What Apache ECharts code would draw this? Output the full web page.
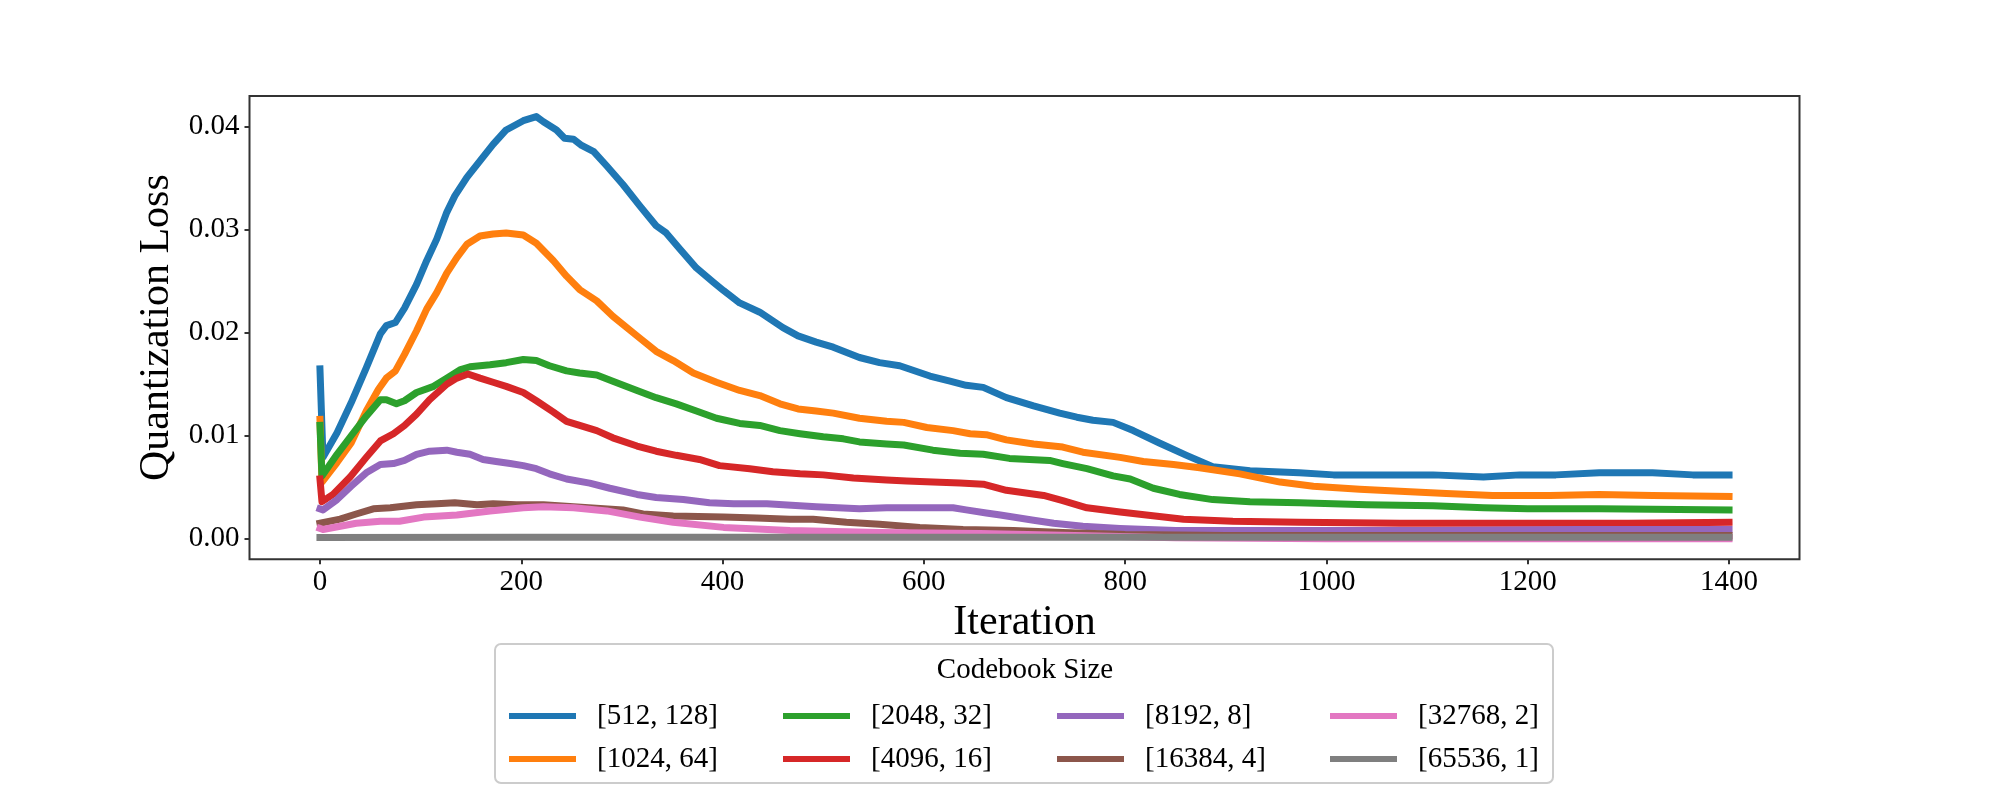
<!DOCTYPE html>
<html>
<head>
<meta charset="utf-8">
<script src="https://cdn.jsdelivr.net/npm/echarts@6/dist/echarts.min.js"></script>
<style>html,body{margin:0;padding:0;background:#fff}#chart{width:2000px;height:800px}</style>
</head>
<body>
<div id="chart"></div>
<script>
// ---- data ----
const seriesNames = ['[512, 128]', '[1024, 64]', '[2048, 32]', '[4096, 16]', '[8192, 8]', '[16384, 4]', '[32768, 2]', '[65536, 1]'];
const xTicks = [0, 200, 400, 600, 800, 1000, 1200, 1400];
const yTicks = [0, 0.01, 0.02, 0.03, 0.04];

const loss_512_128 = [[0,0.0165],[3,0.0079],[17,0.0103],[31,0.0132],[46,0.0166],[60,0.0199],[66,0.0207],[75,0.0210],[84,0.0224],[96,0.0247],[106,0.0270],[116,0.0291],[126,0.0317],[134,0.0333],[146,0.0351],[159,0.0367],[172,0.0383],[185,0.0397],[202,0.0406],[215,0.0410],[222,0.0405],[235,0.0397],[243,0.0389],[252,0.0388],[260,0.0382],[272,0.0376],[285,0.0362],[301,0.0344],[318,0.0323],[334,0.0304],[344,0.0297],[358,0.0281],[374,0.0263],[391,0.0249],[401,0.0241],[417,0.0229],[437,0.0220],[460,0.0205],[475,0.0197],[493,0.0191],[510,0.0186],[536,0.0176],[556,0.0171],[576,0.0168],[606,0.0158],[626,0.0153],[642,0.0149],[659,0.0147],[682,0.0137],[709,0.0129],[735,0.0122],[752,0.0118],[768,0.0115],[788,0.0113],[808,0.0105],[834,0.0093],[861,0.0081],[887,0.0070],[924,0.0066],[973,0.0064],[1007,0.0062],[1056,0.0062],[1106,0.0062],[1156,0.0060],[1192,0.0062],[1228,0.0062],[1271,0.0064],[1324,0.0064],[1364,0.0062],[1400,0.0062]];
const loss_1024_64 = [[0,0.0116],[2,0.0055],[17,0.0074],[31,0.0093],[46,0.0124],[58,0.0145],[66,0.0156],[75,0.0163],[84,0.0179],[96,0.0202],[106,0.0223],[116,0.0239],[126,0.0258],[136,0.0273],[146,0.0286],[159,0.0294],[172,0.0296],[185,0.0297],[202,0.0295],[215,0.0287],[232,0.0270],[245,0.0255],[258,0.0242],[275,0.0231],[291,0.0216],[315,0.0197],[334,0.0182],[351,0.0173],[371,0.0161],[394,0.0152],[417,0.0144],[437,0.0139],[457,0.0131],[475,0.0126],[493,0.0124],[510,0.0122],[536,0.0117],[563,0.0114],[580,0.0113],[603,0.0108],[629,0.0105],[646,0.0102],[662,0.0101],[682,0.0096],[709,0.0092],[738,0.0089],[758,0.0084],[795,0.0079],[818,0.0075],[848,0.0072],[874,0.0069],[914,0.0063],[954,0.0055],[987,0.0051],[1033,0.0048],[1073,0.0046],[1119,0.0044],[1165,0.0042],[1222,0.0042],[1271,0.0043],[1324,0.0042],[1400,0.0041]];
const loss_2048_32 = [[0,0.0110],[2,0.0061],[17,0.0082],[31,0.0100],[46,0.0119],[60,0.0135],[66,0.0135],[76,0.0131],[84,0.0134],[96,0.0142],[113,0.0148],[126,0.0156],[139,0.0164],[149,0.0167],[169,0.0169],[185,0.0171],[202,0.0174],[215,0.0173],[228,0.0168],[245,0.0163],[258,0.0161],[275,0.0159],[291,0.0153],[315,0.0144],[334,0.0137],[354,0.0131],[374,0.0124],[394,0.0117],[417,0.0112],[437,0.0110],[457,0.0105],[477,0.0102],[500,0.0099],[520,0.0097],[536,0.0094],[563,0.0092],[580,0.0091],[609,0.0086],[636,0.0083],[659,0.0082],[685,0.0078],[725,0.0076],[738,0.0073],[762,0.0068],[788,0.0061],[805,0.0058],[828,0.0049],[854,0.0043],[887,0.0038],[924,0.0036],[973,0.0035],[1040,0.0033],[1106,0.0032],[1156,0.0030],[1200,0.0029],[1271,0.0029],[1400,0.0028]];
const loss_4096_16 = [[0,0.0058],[2,0.0036],[13,0.0043],[30,0.0060],[46,0.0079],[60,0.0095],[73,0.0102],[84,0.0110],[96,0.0121],[109,0.0135],[126,0.0150],[136,0.0156],[147,0.0160],[159,0.0156],[172,0.0152],[185,0.0148],[202,0.0142],[215,0.0134],[232,0.0123],[245,0.0114],[258,0.0110],[275,0.0105],[291,0.0098],[315,0.0090],[334,0.0085],[354,0.0081],[377,0.0077],[397,0.0071],[427,0.0068],[450,0.0065],[477,0.0063],[500,0.0062],[530,0.0059],[563,0.0057],[583,0.0056],[609,0.0055],[636,0.0054],[659,0.0053],[682,0.0047],[719,0.0042],[738,0.0037],[762,0.0030],[795,0.0026],[821,0.0023],[858,0.0019],[907,0.0017],[973,0.0016],[1073,0.0015],[1192,0.0015],[1300,0.0015],[1400,0.0016]];
const loss_8192_8 = [[0,0.0029],[3,0.0028],[17,0.0038],[31,0.0051],[46,0.0064],[60,0.0072],[73,0.0073],[84,0.0076],[96,0.0082],[109,0.0085],[126,0.0086],[136,0.0084],[149,0.0082],[162,0.0077],[175,0.0075],[189,0.0073],[202,0.0071],[215,0.0068],[228,0.0063],[245,0.0058],[268,0.0054],[288,0.0049],[315,0.0043],[334,0.0040],[361,0.0038],[387,0.0035],[411,0.0034],[444,0.0034],[493,0.0031],[536,0.0029],[563,0.0030],[629,0.0030],[642,0.0028],[662,0.0025],[676,0.0023],[709,0.0018],[729,0.0015],[758,0.0012],[795,0.0010],[850,0.0008],[950,0.0008],[1100,0.0008],[1250,0.0009],[1400,0.0009]];
const loss_16384_4 = [[0,0.0015],[20,0.0019],[36,0.0024],[53,0.0029],[70,0.0030],[96,0.0033],[116,0.0034],[134,0.0035],[156,0.0033],[172,0.0034],[195,0.0033],[222,0.0033],[252,0.0031],[301,0.0028],[321,0.0024],[351,0.0022],[401,0.0021],[434,0.0020],[467,0.0019],[490,0.0019],[523,0.0016],[556,0.0014],[596,0.0011],[639,0.0009],[689,0.0008],[738,0.0006],[800,0.0004],[900,0.0003],[1100,0.0003],[1400,0.0003]];
const loss_32768_2 = [[0,0.0010],[3,0.0009],[36,0.0015],[60,0.0017],[79,0.0017],[103,0.0021],[136,0.0023],[169,0.0027],[202,0.0030],[222,0.0031],[252,0.0030],[285,0.0027],[318,0.0021],[351,0.0016],[401,0.0011],[467,0.0008],[556,0.0006],[656,0.0005],[750,0.0003],[850,0.0001],[1000,0.0000],[1200,0.0000],[1400,0.0000]];
const loss_65536_1 = [[0,0.00012],[200,0.00014],[400,0.00015],[600,0.00015],[800,0.00015],[1000,0.00015],[1200,0.00015],[1400,0.00015]];

const colors = ['#1f77b4', '#ff7f0e', '#2ca02c', '#d62728', '#9467bd', '#8c564b', '#e377c2', '#7f7f7f'];

// ---- chart ----
const FONT = 'Liberation Serif';
const AXIS_COLOR = '#333333';
const allData = [loss_512_128, loss_1024_64, loss_2048_32, loss_4096_16, loss_8192_8, loss_16384_4, loss_32768_2, loss_65536_1];

const series = allData.map((d, i) => ({
  name: seriesNames[i],
  type: 'line',
  data: d,
  symbol: 'none',
  showSymbol: false,
  silent: true,
  lineStyle: { width: 7, color: colors[i], cap: 'square', join: 'round' },
  itemStyle: { color: colors[i] },
  emphasis: { disabled: true }
}));

const legendLefts = [504, 778, 1052, 1325];
const legends = [0, 1, 2, 3].map(c => ({
  orient: 'vertical',
  left: legendLefts[c],
  top: 696,
  itemWidth: 67,
  itemHeight: 6,
  itemGap: 13,
  icon: 'rect',
  selectedMode: false,
  z: 10,
  data: [seriesNames[2 * c], seriesNames[2 * c + 1]],
  textStyle: { fontFamily: FONT, fontSize: 29, lineHeight: 30, color: '#000', padding: [0, 0, 0, 16] }
}));

const chart = echarts.init(document.getElementById('chart'), null, { renderer: 'canvas' });
chart.setOption({
  animation: false,
  backgroundColor: '#ffffff',
  grid: { left: 249.5, right: 200.5, top: 96, bottom: 240.7, show: true, borderColor: AXIS_COLOR, borderWidth: 2, backgroundColor: 'transparent' },
  xAxis: {
    type: 'value', min: -70, max: 1470,
    name: 'Iteration', nameLocation: 'middle', nameGap: 40,
    nameTextStyle: { fontFamily: FONT, fontSize: 42, color: '#000' },
    axisLine: { show: false, onZero: false },
    axisTick: { show: true, length: 5, customValues: xTicks, lineStyle: { color: AXIS_COLOR, width: 2 } },
    axisLabel: { customValues: xTicks, fontFamily: FONT, fontSize: 29, color: '#000', margin: 9, formatter: v => String(v) },
    splitLine: { show: false }
  },
  yAxis: {
    type: 'value', min: -0.002, max: 0.043,
    name: 'Quantization Loss', nameLocation: 'middle', nameGap: 62,
    nameTextStyle: { fontFamily: FONT, fontSize: 42, color: '#000' },
    axisLine: { show: false, onZero: false },
    axisTick: { show: true, length: 5, customValues: yTicks, lineStyle: { color: AXIS_COLOR, width: 2 } },
    axisLabel: { customValues: yTicks, fontFamily: FONT, fontSize: 29, color: '#000', margin: 10, formatter: v => v.toFixed(2) },
    splitLine: { show: false }
  },
  legend: legends,
  graphic: [
    { type: 'rect', z: 1, shape: { x: 495, y: 644, width: 1058, height: 139, r: 6 }, style: { fill: '#ffffff', stroke: '#cccccc', lineWidth: 2 } },
    { type: 'text', z: 2, x: 1025, y: 670, style: { text: 'Codebook Size', fontFamily: FONT, fontSize: 29, fill: '#000', align: 'center', verticalAlign: 'middle' } }
  ],
  series: series
});
</script>
</body>
</html>
